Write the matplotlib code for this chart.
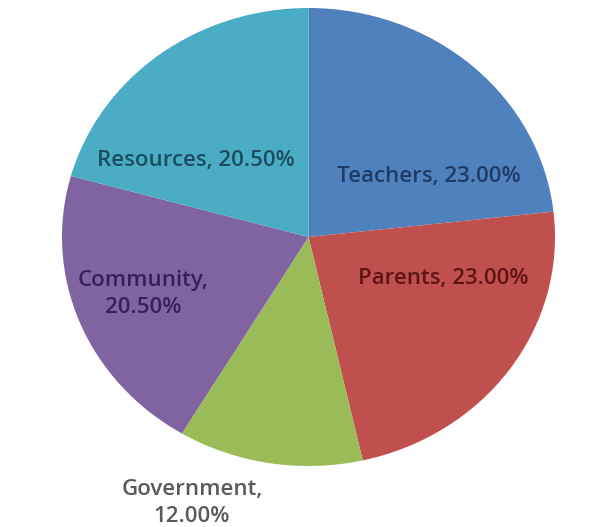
import matplotlib
matplotlib.use("Agg")
import matplotlib.pyplot as plt

categories = ["Teachers", "Parents", "Government", "Community", "Resources"]
values = [23.00, 23.00, 12.00, 20.50, 20.50]
label_texts = ["Teachers, 23.00%", "Parents, 23.00%", "Government,\n12.00%",
               "Community,\n20.50%", "Resources, 20.50%"]

colors = ["#4F81BD", "#C0504D", "#9BBB59", "#8064A2", "#4BACC6"]
text_colors = ["#1F3B66", "#5E1414", "#595959", "#33215A", "#1A4E5E"]
# label positions in axes data coordinates (layout only)
label_pos = [(0.489, 0.266), (0.546, -0.183), (-0.473, -1.162),
             (-0.671, -0.249), (-0.456, 0.336)]

fig = plt.figure(figsize=(6.11, 5.27), dpi=100)
ax = fig.add_axes([62 / 611, (527 - 466) / 527, 493 / 611, 458 / 527])
ax.pie(values, colors=colors, startangle=90, counterclock=False,
       radius=1.0, wedgeprops=dict(linewidth=0))
ax.set_aspect("auto")
ax.set_xlim(-1, 1)
ax.set_ylim(-1, 1)
ax.axis("off")

for txt, (x, y), c in zip(label_texts, label_pos, text_colors):
    ax.text(x, y, txt, ha="center", va="center", color=c,
            fontsize=16, fontweight="semibold",
            family=["Open Sans", "DejaVu Sans"],
            multialignment="center", linespacing=1.4, clip_on=False)

fig.savefig("out.png", dpi=100)
